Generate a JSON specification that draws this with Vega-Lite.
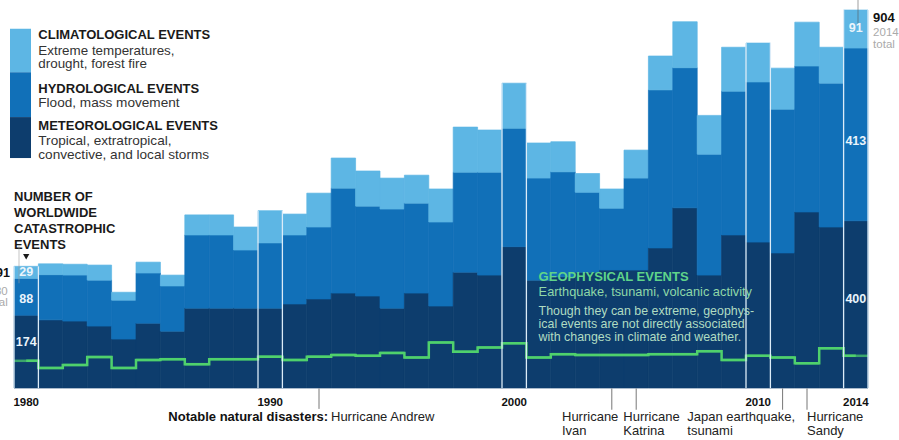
{
  "$schema": "https://vega.github.io/schema/vega-lite/v6.json",
  "width": 854,
  "height": 388,
  "autosize": {"type": "none"},
  "padding": {"left": 14, "top": 0, "right": 31, "bottom": 52},
  "background": "white",
  "config": {"view": {"stroke": null}, "font": "Liberation Sans", "text": {"font": "Liberation Sans"}},
  "datasets": {
    "events": [
      {"year": 1980, "meteorological": 174, "hydrological": 88, "climatological": 29, "geophysical": 65},
      {"year": 1981, "meteorological": 163, "hydrological": 108, "climatological": 26, "geophysical": 48},
      {"year": 1982, "meteorological": 160, "hydrological": 110, "climatological": 26, "geophysical": 55},
      {"year": 1983, "meteorological": 148, "hydrological": 110, "climatological": 36, "geophysical": 74},
      {"year": 1984, "meteorological": 117, "hydrological": 93, "climatological": 19, "geophysical": 48},
      {"year": 1985, "meteorological": 155, "hydrological": 120, "climatological": 26, "geophysical": 67},
      {"year": 1986, "meteorological": 136, "hydrological": 108, "climatological": 26, "geophysical": 69},
      {"year": 1987, "meteorological": 191, "hydrological": 175, "climatological": 48, "geophysical": 57},
      {"year": 1988, "meteorological": 191, "hydrological": 175, "climatological": 48, "geophysical": 69},
      {"year": 1989, "meteorological": 191, "hydrological": 139, "climatological": 55, "geophysical": 69},
      {"year": 1990, "meteorological": 191, "hydrological": 156, "climatological": 77, "geophysical": 75},
      {"year": 1991, "meteorological": 201, "hydrological": 165, "climatological": 50, "geophysical": 67},
      {"year": 1992, "meteorological": 213, "hydrological": 172, "climatological": 81, "geophysical": 75},
      {"year": 1993, "meteorological": 227, "hydrological": 251, "climatological": 72, "geophysical": 79},
      {"year": 1994, "meteorological": 220, "hydrological": 215, "climatological": 84, "geophysical": 77},
      {"year": 1995, "meteorological": 191, "hydrological": 237, "climatological": 74, "geophysical": 84},
      {"year": 1996, "meteorological": 227, "hydrological": 215, "climatological": 67, "geophysical": 73},
      {"year": 1997, "meteorological": 196, "hydrological": 201, "climatological": 79, "geophysical": 109},
      {"year": 1998, "meteorological": 277, "hydrological": 239, "climatological": 108, "geophysical": 87},
      {"year": 1999, "meteorological": 270, "hydrological": 246, "climatological": 101, "geophysical": 97},
      {"year": 2000, "meteorological": 338, "hydrological": 283, "climatological": 108, "geophysical": 107},
      {"year": 2001, "meteorological": 258, "hydrological": 244, "climatological": 84, "geophysical": 73},
      {"year": 2002, "meteorological": 266, "hydrological": 251, "climatological": 72, "geophysical": 81},
      {"year": 2003, "meteorological": 277, "hydrological": 191, "climatological": 45, "geophysical": 79},
      {"year": 2004, "meteorological": 282, "hydrological": 148, "climatological": 46, "geophysical": 79},
      {"year": 2005, "meteorological": 282, "hydrological": 220, "climatological": 67, "geophysical": 79},
      {"year": 2006, "meteorological": 335, "hydrological": 378, "climatological": 81, "geophysical": 81},
      {"year": 2007, "meteorological": 431, "hydrological": 335, "climatological": 110, "geophysical": 81},
      {"year": 2008, "meteorological": 270, "hydrological": 289, "climatological": 93, "geophysical": 88},
      {"year": 2009, "meteorological": 366, "hydrological": 344, "climatological": 105, "geophysical": 67},
      {"year": 2010, "meteorological": 349, "hydrological": 383, "climatological": 93, "geophysical": 77},
      {"year": 2011, "meteorological": 323, "hydrological": 344, "climatological": 98, "geophysical": 73},
      {"year": 2012, "meteorological": 421, "hydrological": 349, "climatological": 105, "geophysical": 59},
      {"year": 2013, "meteorological": 385, "hydrological": 344, "climatological": 86, "geophysical": 95},
      {"year": 2014, "meteorological": 400, "hydrological": 413, "climatological": 91, "geophysical": 77}
    ],
    "one": [{}]
  },
  "layer": [
    {
      "data": {"name": "events"},
      "transform": [{"fold": ["meteorological", "hydrological", "climatological"], "as": ["type", "count"]}],
      "mark": {"type": "bar", "strokeWidth": 0.7},
      "encoding": {
        "x": {
          "field": "year", "type": "ordinal",
          "scale": {"paddingInner": 0, "paddingOuter": 0},
          "axis": {"values": [1980, 1990, 2000, 2010, 2014], "title": null, "domain": false, "ticks": false, "tickSize": 0, "grid": false, "labelAngle": 0, "labelFont": "Liberation Sans", "labelFontWeight": "bold", "labelFontSize": 11.5, "labelColor": "#111111", "labelPadding": 8}
        },
        "y": {"field": "count", "type": "quantitative", "stack": "zero", "scale": {"domain": [0, 928], "nice": false, "zero": true}, "axis": null},
        "color": {"field": "type", "type": "nominal", "scale": {"domain": ["meteorological", "hydrological", "climatological"], "range": ["#0d3d6d", "#1170b8", "#5db6e4"]}, "legend": null},
        "stroke": {"field": "type", "type": "nominal", "scale": {"domain": ["meteorological", "hydrological", "climatological"], "range": ["#0d3d6d", "#1170b8", "#5db6e4"]}, "legend": null},
        "order": {"field": "type", "sort": "descending"}
      }
    },
    {
      "data": {"name": "events"},
      "mark": {"type": "tick", "color": "#4fd16c", "thickness": 2.5, "size": 24.4},
      "encoding": {"x": {"field": "year", "type": "ordinal"}, "y": {"field": "geophysical", "type": "quantitative"}}
    },
    {
      "data": {"name": "events"},
      "mark": {"type": "line", "interpolate": "step", "color": "#4fd16c", "strokeWidth": 2.5},
      "encoding": {"x": {"field": "year", "type": "ordinal"}, "y": {"field": "geophysical", "type": "quantitative"}}
    },
    {
      "data": {"name": "events"},
      "transform": [
        {"filter": {"field": "year", "oneOf": [1980, 1990, 2000, 2010, 2014]}},
        {"fold": ["meteorological", "hydrological", "climatological"], "as": ["type", "count"]},
        {"aggregate": [{"op": "sum", "field": "count", "as": "total"}], "groupby": ["year"]}
      ],
      "mark": {"type": "rule", "color": "#dcecf8", "strokeWidth": 1.3},
      "encoding": {"x": {"field": "year", "type": "ordinal", "bandPosition": 0}, "y": {"field": "total", "type": "quantitative"}, "y2": {"datum": 0}}
    },
    {
      "data": {"name": "events"},
      "transform": [
        {"filter": {"field": "year", "oneOf": [1980, 1990, 2000, 2010, 2014]}},
        {"fold": ["meteorological", "hydrological", "climatological"], "as": ["type", "count"]},
        {"aggregate": [{"op": "sum", "field": "count", "as": "total"}], "groupby": ["year"]}
      ],
      "mark": {"type": "rule", "color": "#dcecf8", "strokeWidth": 1.3},
      "encoding": {"x": {"field": "year", "type": "ordinal", "bandPosition": 1}, "y": {"field": "total", "type": "quantitative"}, "y2": {"datum": 0}}
    },
    {
      "data": {"name": "one"},
      "mark": {"type": "bar", "width": 21, "xOffset": -5.7, "color": "#5db6e4"},
      "encoding": {"x": {"datum": 1980, "type": "ordinal"}, "y": {"datum": 859, "type": "quantitative"}, "y2": {"datum": 755}}
    },
    {
      "data": {"name": "one"},
      "mark": {"type": "bar", "width": 21, "xOffset": -5.7, "color": "#1170b8"},
      "encoding": {"x": {"datum": 1980, "type": "ordinal"}, "y": {"datum": 755, "type": "quantitative"}, "y2": {"datum": 648}}
    },
    {
      "data": {"name": "one"},
      "mark": {"type": "bar", "width": 21, "xOffset": -5.7, "color": "#0d3d6d"},
      "encoding": {"x": {"datum": 1980, "type": "ordinal"}, "y": {"datum": 648, "type": "quantitative"}, "y2": {"datum": 550}}
    },
    {
      "data": {"name": "one"},
      "mark": {"type": "text", "align": "left", "baseline": "middle", "dx": -12.3, "fontSize": 13, "fontWeight": "bold", "color": "#1a1a1a", "text": "CLIMATOLOGICAL EVENTS"},
      "encoding": {"x": {"datum": 1981, "type": "ordinal"}, "y": {"datum": 844, "type": "quantitative"}}
    },
    {
      "data": {"name": "one"},
      "mark": {"type": "text", "align": "left", "baseline": "top", "dx": -12.3, "fontSize": 13.4, "lineHeight": 13.4, "color": "#333333", "text": ["Extreme temperatures,", "drought, forest fire"]},
      "encoding": {"x": {"datum": 1981, "type": "ordinal"}, "y": {"datum": 823, "type": "quantitative"}}
    },
    {
      "data": {"name": "one"},
      "mark": {"type": "text", "align": "left", "baseline": "middle", "dx": -12.3, "fontSize": 13, "fontWeight": "bold", "color": "#1a1a1a", "text": "HYDROLOGICAL EVENTS"},
      "encoding": {"x": {"datum": 1981, "type": "ordinal"}, "y": {"datum": 715, "type": "quantitative"}}
    },
    {
      "data": {"name": "one"},
      "mark": {"type": "text", "align": "left", "baseline": "middle", "dx": -12.3, "fontSize": 13.6, "color": "#333333", "text": "Flood, mass movement"},
      "encoding": {"x": {"datum": 1981, "type": "ordinal"}, "y": {"datum": 681, "type": "quantitative"}}
    },
    {
      "data": {"name": "one"},
      "mark": {"type": "text", "align": "left", "baseline": "middle", "dx": -12.3, "fontSize": 13, "fontWeight": "bold", "color": "#1a1a1a", "text": "METEOROLOGICAL EVENTS"},
      "encoding": {"x": {"datum": 1981, "type": "ordinal"}, "y": {"datum": 627, "type": "quantitative"}}
    },
    {
      "data": {"name": "one"},
      "mark": {"type": "text", "align": "left", "baseline": "top", "dx": -12.3, "fontSize": 13.6, "lineHeight": 14, "color": "#333333", "text": ["Tropical, extratropical,", "convective, and local storms"]},
      "encoding": {"x": {"datum": 1981, "type": "ordinal"}, "y": {"datum": 607, "type": "quantitative"}}
    },
    {
      "data": {"name": "one"},
      "mark": {"type": "text", "align": "left", "baseline": "top", "dx": -12.2, "fontSize": 13, "fontWeight": "bold", "lineHeight": 16.1, "color": "#1a1a1a", "text": ["NUMBER OF", "WORLDWIDE", "CATASTROPHIC", "EVENTS"]},
      "encoding": {"x": {"datum": 1980, "type": "ordinal"}, "y": {"datum": 471, "type": "quantitative"}}
    },
    {
      "data": {"name": "one"},
      "mark": {"type": "point", "shape": "triangle-down", "filled": true, "color": "#1a1a1a", "size": 40, "opacity": 1},
      "encoding": {"x": {"datum": 1980, "type": "ordinal"}, "y": {"datum": 314, "type": "quantitative"}}
    },
    {
      "data": {"name": "one"},
      "mark": {"type": "tick", "size": 38, "thickness": 0.8, "xOffset": -7.2, "color": "#999999"},
      "encoding": {"x": {"datum": 1980, "type": "ordinal"}, "y": {"datum": 296, "type": "quantitative"}}
    },
    {
      "data": {"name": "one"},
      "mark": {"type": "tick", "size": 30, "thickness": 0.8, "xOffset": 2.2, "color": "#555555"},
      "encoding": {"x": {"datum": 2014, "type": "ordinal"}, "y": {"datum": 907, "type": "quantitative"}}
    },
    {
      "data": {"name": "one"},
      "mark": {"type": "text", "align": "right", "baseline": "middle", "dx": -16.2, "fontSize": 12.5, "fontWeight": "bold", "color": "#111111", "text": "291"},
      "encoding": {"x": {"datum": 1980, "type": "ordinal"}, "y": {"datum": 276, "type": "quantitative"}}
    },
    {
      "data": {"name": "one"},
      "mark": {"type": "text", "align": "right", "baseline": "top", "dx": -18.5, "fontSize": 11.5, "lineHeight": 11.7, "color": "#aaaaaa", "text": ["1980", "total"]},
      "encoding": {"x": {"datum": 1980, "type": "ordinal"}, "y": {"datum": 245, "type": "quantitative"}}
    },
    {
      "data": {"name": "one"},
      "mark": {"type": "text", "align": "left", "baseline": "middle", "dx": 17.3, "fontSize": 13, "fontWeight": "bold", "color": "#111111", "text": "904"},
      "encoding": {"x": {"datum": 2014, "type": "ordinal"}, "y": {"datum": 886, "type": "quantitative"}}
    },
    {
      "data": {"name": "one"},
      "mark": {"type": "text", "align": "left", "baseline": "top", "dx": 17.3, "fontSize": 11.5, "lineHeight": 11.5, "color": "#aaaaaa", "text": ["2014", "total"]},
      "encoding": {"x": {"datum": 2014, "type": "ordinal"}, "y": {"datum": 863, "type": "quantitative"}}
    },
    {
      "data": {"name": "one"},
      "mark": {"type": "text", "align": "center", "baseline": "middle", "fontSize": 12.5, "fontWeight": "bold", "color": "#eaf4fb", "text": "29"},
      "encoding": {"x": {"datum": 1980, "type": "ordinal"}, "y": {"datum": 278, "type": "quantitative"}}
    },
    {
      "data": {"name": "one"},
      "mark": {"type": "text", "align": "center", "baseline": "middle", "fontSize": 12.5, "fontWeight": "bold", "color": "#eaf4fb", "text": "88"},
      "encoding": {"x": {"datum": 1980, "type": "ordinal"}, "y": {"datum": 214, "type": "quantitative"}}
    },
    {
      "data": {"name": "one"},
      "mark": {"type": "text", "align": "center", "baseline": "middle", "fontSize": 12.5, "fontWeight": "bold", "color": "#eaf4fb", "text": "174"},
      "encoding": {"x": {"datum": 1980, "type": "ordinal"}, "y": {"datum": 110, "type": "quantitative"}}
    },
    {
      "data": {"name": "one"},
      "mark": {"type": "text", "align": "center", "baseline": "middle", "fontSize": 12.5, "fontWeight": "bold", "color": "#eaf4fb", "text": "91"},
      "encoding": {"x": {"datum": 2014, "type": "ordinal"}, "y": {"datum": 861, "type": "quantitative"}}
    },
    {
      "data": {"name": "one"},
      "mark": {"type": "text", "align": "center", "baseline": "middle", "fontSize": 12.5, "fontWeight": "bold", "color": "#eaf4fb", "text": "413"},
      "encoding": {"x": {"datum": 2014, "type": "ordinal"}, "y": {"datum": 591, "type": "quantitative"}}
    },
    {
      "data": {"name": "one"},
      "mark": {"type": "text", "align": "center", "baseline": "middle", "fontSize": 12.5, "fontWeight": "bold", "color": "#eaf4fb", "text": "400"},
      "encoding": {"x": {"datum": 2014, "type": "ordinal"}, "y": {"datum": 214, "type": "quantitative"}}
    },
    {
      "data": {"name": "one"},
      "mark": {"type": "text", "align": "left", "baseline": "middle", "fontSize": 13, "fontWeight": "bold", "color": "#5fd48a", "text": "GEOPHYSICAL EVENTS"},
      "encoding": {"x": {"datum": 2001, "type": "ordinal"}, "y": {"datum": 266, "type": "quantitative"}}
    },
    {
      "data": {"name": "one"},
      "mark": {"type": "text", "align": "left", "baseline": "middle", "fontSize": 12.8, "color": "#8fd8a8", "text": "Earthquake, tsunami, volcanic activity"},
      "encoding": {"x": {"datum": 2001, "type": "ordinal"}, "y": {"datum": 230, "type": "quantitative"}}
    },
    {
      "data": {"name": "one"},
      "mark": {"type": "text", "align": "left", "baseline": "top", "fontSize": 12.4, "lineHeight": 13.2, "color": "#b0dcc2", "text": ["Though they can be extreme, geophys-", "ical events are not directly associated", "with changes in climate and weather."]},
      "encoding": {"x": {"datum": 2001, "type": "ordinal"}, "y": {"datum": 199, "type": "quantitative"}}
    },
    {
      "data": {"name": "one"},
      "mark": {"type": "rule", "color": "#777777", "strokeWidth": 1},
      "encoding": {"x": {"datum": 1992, "type": "ordinal"}, "y": {"datum": -1, "type": "quantitative"}, "y2": {"datum": -50}}
    },
    {
      "data": {"name": "one"},
      "mark": {"type": "rule", "color": "#777777", "strokeWidth": 1},
      "encoding": {"x": {"datum": 2004, "type": "ordinal"}, "y": {"datum": -1, "type": "quantitative"}, "y2": {"datum": -52}}
    },
    {
      "data": {"name": "one"},
      "mark": {"type": "rule", "color": "#777777", "strokeWidth": 1},
      "encoding": {"x": {"datum": 2005, "type": "ordinal"}, "y": {"datum": -1, "type": "quantitative"}, "y2": {"datum": -52}}
    },
    {
      "data": {"name": "one"},
      "mark": {"type": "rule", "color": "#777777", "strokeWidth": 1},
      "encoding": {"x": {"datum": 2011, "type": "ordinal"}, "y": {"datum": -1, "type": "quantitative"}, "y2": {"datum": -52}}
    },
    {
      "data": {"name": "one"},
      "mark": {"type": "rule", "color": "#777777", "strokeWidth": 1},
      "encoding": {"x": {"datum": 2012, "type": "ordinal"}, "y": {"datum": -1, "type": "quantitative"}, "y2": {"datum": -52}}
    },
    {
      "data": {"name": "one"},
      "mark": {"type": "text", "align": "right", "baseline": "middle", "dx": 9, "fontSize": 13, "fontWeight": "bold", "color": "#111111", "text": "Notable natural disasters:"},
      "encoding": {"x": {"datum": 1992, "type": "ordinal"}, "y": {"datum": -69, "type": "quantitative"}}
    },
    {
      "data": {"name": "one"},
      "mark": {"type": "text", "align": "left", "baseline": "middle", "dx": 12, "fontSize": 13, "color": "#222222", "text": "Hurricane Andrew"},
      "encoding": {"x": {"datum": 1992, "type": "ordinal"}, "y": {"datum": -69, "type": "quantitative"}}
    },
    {
      "data": {"name": "one"},
      "mark": {"type": "text", "align": "left", "baseline": "top", "dx": -49.8, "fontSize": 13, "lineHeight": 14, "color": "#222222", "text": ["Hurricane", "Ivan"]},
      "encoding": {"x": {"datum": 2004, "type": "ordinal"}, "y": {"datum": -55, "type": "quantitative"}}
    },
    {
      "data": {"name": "one"},
      "mark": {"type": "text", "align": "left", "baseline": "top", "dx": -12.9, "fontSize": 13, "lineHeight": 14, "color": "#222222", "text": ["Hurricane", "Katrina"]},
      "encoding": {"x": {"datum": 2005, "type": "ordinal"}, "y": {"datum": -55, "type": "quantitative"}}
    },
    {
      "data": {"name": "one"},
      "mark": {"type": "text", "align": "left", "baseline": "top", "dx": -95.3, "fontSize": 13, "lineHeight": 14, "color": "#222222", "text": ["Japan earthquake,", "tsunami"]},
      "encoding": {"x": {"datum": 2011, "type": "ordinal"}, "y": {"datum": -55, "type": "quantitative"}}
    },
    {
      "data": {"name": "one"},
      "mark": {"type": "text", "align": "left", "baseline": "top", "dx": 0, "fontSize": 13, "lineHeight": 14, "color": "#222222", "text": ["Hurricane", "Sandy"]},
      "encoding": {"x": {"datum": 2012, "type": "ordinal"}, "y": {"datum": -55, "type": "quantitative"}}
    }
  ]
}
